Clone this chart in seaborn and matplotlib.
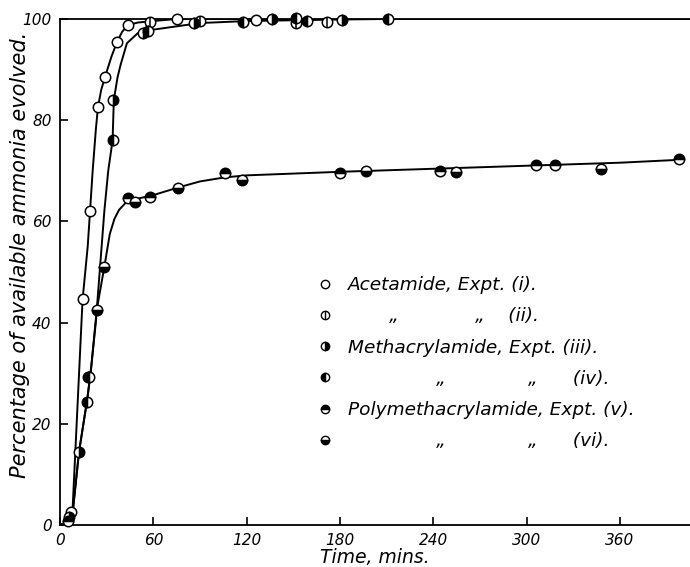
import matplotlib

matplotlib.use("Agg")
import matplotlib.pyplot as plt
from matplotlib.lines import Line2D
import seaborn as sns

# --- smooth curves (time in mins, % evolved) ---
acet_curve_t = [0, 4, 8, 14.5, 17.8, 19.3, 21, 23, 24.4, 26.5, 28.9, 33, 36.7, 40, 43.7, 50, 60, 75, 405]
acet_curve_y = [0, 0.5, 2.5, 44.5, 55, 62, 70, 78, 82.6, 86, 88.5, 92.5, 95.5, 97.5, 98.8, 99.3, 99.6, 100, 100]

meth_curve_t = [0, 5, 8, 12.2, 17.6, 20, 23, 25.5, 28.5, 31, 33.8, 34.6, 37, 39, 43, 50, 60, 90, 120, 180, 210, 405]
meth_curve_y = [0, 0.5, 2, 14.4, 25, 31, 40, 50, 62, 70, 76, 84, 88.5, 91, 95.2, 97.2, 97.9, 99.2, 99.6, 99.9, 100, 100]

poly_curve_t = [0, 5, 8, 12.2, 17.6, 20, 23.6, 28.5, 32, 35, 38, 42, 50, 60, 76, 90, 106, 120, 180, 240, 300, 360, 400]
poly_curve_y = [0, 0.5, 2, 14.4, 25, 31, 42.5, 51, 57.5, 60.5, 62.3, 63.6, 64.5, 65.2, 66.7, 67.9, 68.7, 69.1, 69.8, 70.4, 71.0, 71.6, 72.2]

# --- experimental points ---
exp1_t = [7, 14.6, 19.3, 24.4, 28.9, 36.7, 43.7, 75, 126]
exp1_y = [2.5, 44.6, 62, 82.6, 88.5, 95.5, 98.8, 100, 99.8]

exp2_t = [58, 90, 152, 171.5]
exp2_y = [99.4, 99.6, 99.3, 99.4]

exp3_t = [6, 12.2, 18, 34.2, 53.5, 86, 136, 181.5]
exp3_y = [1.5, 14.4, 29.3, 84, 97.3, 99.2, 100, 99.8]

exp4_t = [17.6, 18.8, 34, 56.7, 117.6, 152, 158.6, 210.7]
exp4_y = [24.3, 29.3, 76, 97.7, 99.4, 100.2, 99.7, 100]

exp5_t = [5, 43.9, 57.9, 106, 180, 244, 306, 318, 398]
exp5_y = [0.8, 64.6, 64.9, 69.6, 69.5, 70.0, 71.1, 71.2, 72.3]

exp6_t = [23.6, 28.5, 48.2, 76, 117, 197, 254.6, 348]
exp6_y = [42.5, 51, 63.9, 66.6, 68.1, 70.0, 69.8, 70.3]

labels = [
    "Acetamide, Expt. (i).",
    "       „             „    (ii).",
    "Methacrylamide, Expt. (iii).",
    "               „              „      (iv).",
    "Polymethacrylamide, Expt. (v).",
    "               „              „      (vi).",
]

x_ticks = [0, 60, 120, 180, 240, 300, 360]
y_ticks = [0, 20, 40, 60, 80, 100]

sns.set_theme(style="ticks")
plt.rcParams.update(
    {
        "font.family": ["DejaVu Sans"],
        "font.style": "italic",
        "axes.edgecolor": "black",
        "axes.linewidth": 1.3,
        "xtick.color": "black",
        "ytick.color": "black",
        "text.color": "black",
        "axes.labelcolor": "black",
    }
)

fig = plt.figure(figsize=(6.9, 5.67), dpi=100)
ax = fig.add_axes([60 / 690, 42 / 567, 630 / 690, 506 / 567])

lw = 1.4
for ct, cy in [(acet_curve_t, acet_curve_y), (meth_curve_t, meth_curve_y), (poly_curve_t, poly_curve_y)]:
    sns.lineplot(x=ct, y=cy, ax=ax, color="black", lw=lw, sort=False, estimator=None)

ms = 7.5
pt = dict(color="black", markeredgecolor="black", markeredgewidth=1.1, markersize=ms,
          linestyle="", markerfacecoloralt="white", zorder=5, clip_on=False)


def points(t, y, **kw):
    sns.lineplot(x=t, y=y, ax=ax, sort=False, estimator=None, **{**pt, **kw})


points(exp1_t, exp1_y, marker="o", markerfacecolor="white")
points(exp2_t, exp2_y, marker="o", markerfacecolor="white")
points(exp2_t, exp2_y, marker="|", markersize=ms, markeredgewidth=1.1)
points(exp3_t, exp3_y, marker="o", fillstyle="right")
points(exp4_t, exp4_y, marker="o", fillstyle="left")
points(exp5_t, exp5_y, marker="o", fillstyle="top")
points(exp6_t, exp6_y, marker="o", fillstyle="bottom")

ax.set_xlim(0, 405)
ax.set_ylim(0, 100)
ax.set_xticks(x_ticks)
ax.set_yticks(y_ticks)
ax.tick_params(direction="in", length=6, width=1.2, labelsize=11, pad=6)
ax.spines["right"].set_visible(False)
ax.spines["top"].set_visible(True)
ax.set_xlabel("Time, mins.", fontsize=13.5, labelpad=0)
ax.set_ylabel("Percentage of available ammonia evolved.", fontsize=15)
ax.yaxis.set_label_coords((30 - 60) / 630, (525 - 255) / 506)

# legend handles
lk = dict(color="black", markeredgecolor="black", markeredgewidth=1.0, markersize=6,
          linestyle="", markerfacecoloralt="white")
h1 = Line2D([], [], marker="o", markerfacecolor="white", **lk)
h2 = (Line2D([], [], marker="o", markerfacecolor="white", **lk),
      Line2D([], [], marker="|", **lk))
h3 = Line2D([], [], marker="o", fillstyle="right", **lk)
h4 = Line2D([], [], marker="o", fillstyle="left", **lk)
h5 = Line2D([], [], marker="o", fillstyle="top", **lk)
h6 = Line2D([], [], marker="o", fillstyle="bottom", **lk)
ax.legend(
    [h1, h2, h3, h4, h5, h6],
    labels,
    loc="upper left",
    bbox_to_anchor=((318 - 60) / 630, (525 - 276) / 506),
    frameon=False,
    fontsize=13.3,
    handlelength=0.8,
    handletextpad=0.82,
    labelspacing=0.72,
    borderpad=0,
    borderaxespad=0,
)

fig.savefig("out.png", dpi=100, facecolor="white")
